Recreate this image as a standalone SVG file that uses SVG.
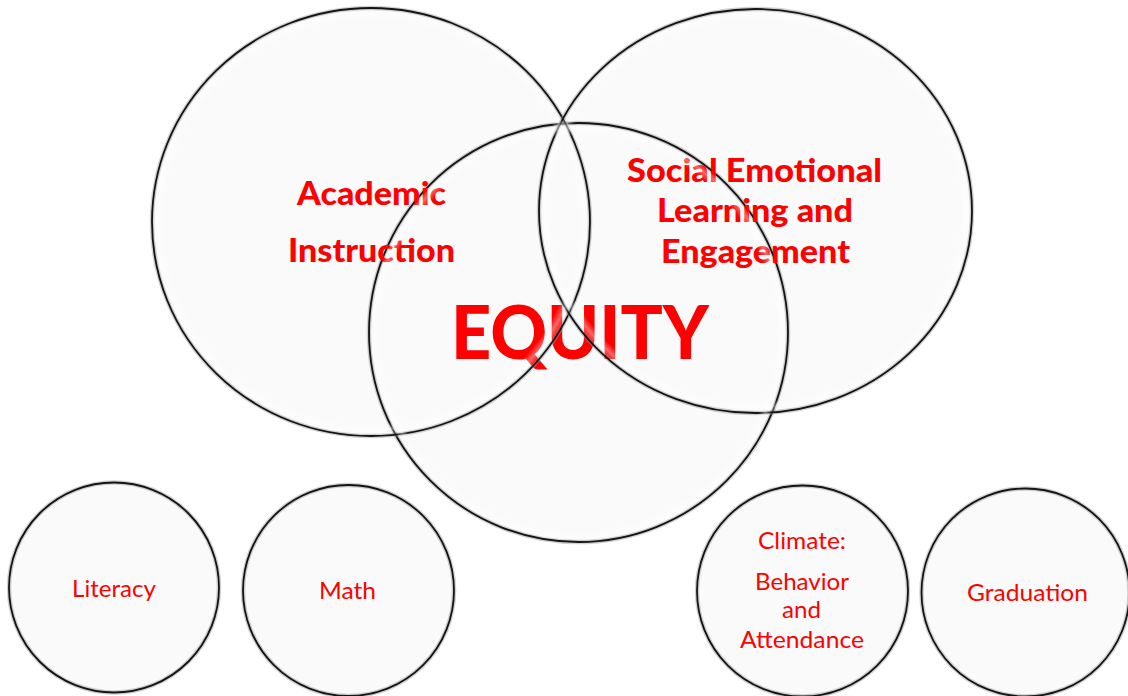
<svg xmlns="http://www.w3.org/2000/svg" width="1128" height="696" viewBox="0 0 1128 696">
<defs>
<radialGradient id="glow" cx="0.5" cy="0.5" r="0.5">
<stop offset="0" stop-color="#ffffff" stop-opacity="0"/>
<stop offset="0.95" stop-color="#ffffff" stop-opacity="0"/>
<stop offset="0.98" stop-color="#ffffff" stop-opacity="0.4"/>
<stop offset="1" stop-color="#ffffff" stop-opacity="0.15"/>
</radialGradient>
<style>
.disc{fill:#fafafa;stroke:none}
.glow{fill:url(#glow);stroke:none}
.halo{fill:none;stroke:#9a9a9a;stroke-width:4.5;stroke-opacity:0.45}
.rim{fill:none;stroke:#141414;stroke-width:1.8}
.big{font-family:Lato,"Liberation Sans",sans-serif;font-weight:900;fill:#ff0000;text-anchor:middle}
.small{font-family:Lato,"Liberation Sans",sans-serif;font-weight:normal;fill:#ff0000;text-anchor:middle}
</style>
</defs>
<rect width="1128" height="696" fill="#ffffff"/>
<g id="underlay">
<ellipse class="disc" cx="371" cy="222" rx="219" ry="214"/>
<ellipse class="disc" cx="755.5" cy="211" rx="216.5" ry="202"/>
<circle class="disc" cx="578.5" cy="332.5" r="209.5"/>
</g>
<g id="equity">
<circle class="halo" cx="578.5" cy="332.5" r="209.5"/>
<circle class="rim" cx="578.5" cy="332.5" r="209.5"/>
<text class="big" font-size="74" x="580" y="359" textLength="258" lengthAdjust="spacingAndGlyphs">EQUITY</text>
</g>
<g id="academic">
<ellipse class="halo" cx="371" cy="222" rx="219" ry="214"/>
<ellipse class="rim" cx="371" cy="222" rx="219" ry="214"/>
<text class="big" font-size="32" x="371.5" y="205" textLength="149" lengthAdjust="spacingAndGlyphs">Academic</text>
<text class="big" font-size="32" x="371.5" y="262" textLength="167" lengthAdjust="spacingAndGlyphs">Instruction</text>
</g>
<g id="social">
<ellipse class="halo" cx="755.5" cy="211" rx="216.5" ry="202"/>
<ellipse class="rim" cx="755.5" cy="211" rx="216.5" ry="202"/>
<text class="big" font-size="32" x="754.5" y="182" textLength="255" lengthAdjust="spacingAndGlyphs">Social Emotional</text>
<text class="big" font-size="32" x="755" y="222" textLength="196" lengthAdjust="spacingAndGlyphs">Learning and</text>
<text class="big" font-size="32" x="755.5" y="263" textLength="189" lengthAdjust="spacingAndGlyphs">Engagement</text>
</g>
<g id="edge-glow">
<ellipse class="glow" cx="371" cy="222" rx="217" ry="212"/>
<ellipse class="glow" cx="755.5" cy="211" rx="214.5" ry="200"/>
<circle class="glow" cx="578.5" cy="332.5" r="207.5"/>
</g>
<g id="literacy">
<circle class="disc" cx="114" cy="587.5" r="105"/>
<circle class="halo" cx="114" cy="587.5" r="105"/>
<circle class="rim" cx="114" cy="587.5" r="105"/>
<text class="small" font-size="24" x="114" y="597" textLength="84" lengthAdjust="spacingAndGlyphs">Literacy</text>
</g>
<g id="math">
<circle class="disc" cx="348.5" cy="590.5" r="105.5"/>
<circle class="halo" cx="348.5" cy="590.5" r="105.5"/>
<circle class="rim" cx="348.5" cy="590.5" r="105.5"/>
<text class="small" font-size="24" x="347.5" y="599" textLength="57" lengthAdjust="spacingAndGlyphs">Math</text>
</g>
<g id="climate">
<circle class="disc" cx="802.5" cy="591" r="105.5"/>
<circle class="halo" cx="802.5" cy="591" r="105.5"/>
<circle class="rim" cx="802.5" cy="591" r="105.5"/>
<text class="small" font-size="24" x="802" y="549" textLength="88" lengthAdjust="spacingAndGlyphs">Climate:</text>
<text class="small" font-size="24" x="802" y="590" textLength="94" lengthAdjust="spacingAndGlyphs">Behavior</text>
<text class="small" font-size="24" x="801.5" y="618" textLength="39" lengthAdjust="spacingAndGlyphs">and</text>
<text class="small" font-size="24" x="802" y="648" textLength="124" lengthAdjust="spacingAndGlyphs">Attendance</text>
</g>
<g id="graduation">
<circle class="disc" cx="1025.5" cy="592.5" r="104"/>
<circle class="halo" cx="1025.5" cy="592.5" r="104"/>
<circle class="rim" cx="1025.5" cy="592.5" r="104"/>
<text class="small" font-size="24" x="1027.5" y="601" textLength="121" lengthAdjust="spacingAndGlyphs">Graduation</text>
</g>
</svg>
